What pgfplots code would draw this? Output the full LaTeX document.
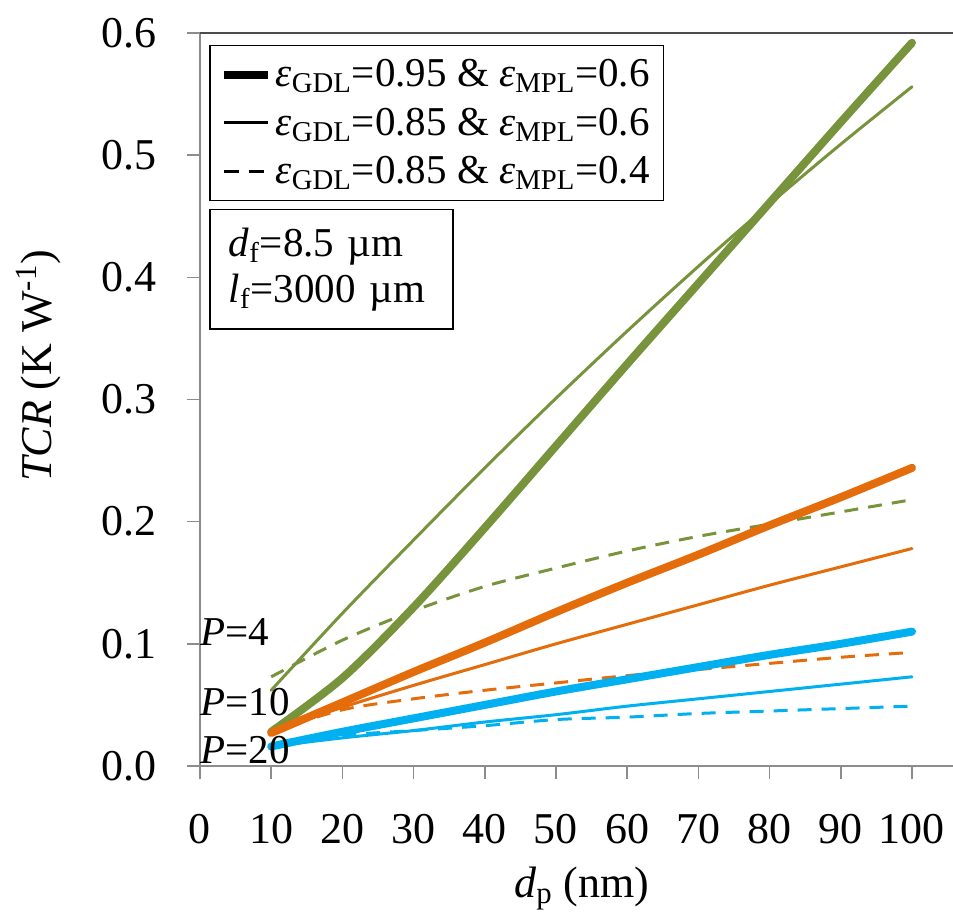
\documentclass[border=0pt]{standalone}
\usepackage{fontspec}
\setmainfont{Liberation Serif}
\usepackage{pgfplots}
\pgfplotsset{compat=1.18}
\definecolor{cgreen}{RGB}{119,147,60}
\definecolor{corange}{RGB}{228,108,10}
\definecolor{cblue}{RGB}{0,176,240}
\definecolor{axgray}{RGB}{140,140,140}
\begin{document}
\begin{tikzpicture}[font=\fontsize{20.5}{23}\selectfont]
\begin{axis}[
  name=ax, at={(0,0)}, anchor=south west,
  scale only axis, width=376.5pt, height=366.5pt,
  xmin=0, xmax=105.76, ymin=0, ymax=0.6,
  xtick={0,10,...,100}, ytick={0,0.1,0.2,0.3,0.4,0.5,0.6},
  axis lines*=left,
  axis line style={axgray, line width=0.75pt},
  tick align=outside, major tick length=6.5pt,
  tick style={axgray, line width=0.75pt},
  /pgf/number format/assume math mode=true,
  ticklabel style={font=\fontsize{22}{24}\selectfont},
  xticklabel style={yshift=-14pt},
  yticklabel style={xshift=-11.5pt, /pgf/number format/.cd, fixed, fixed zerofill, precision=1},
  xlabel={\textit{d}\textsubscript{p} (nm)},
  ylabel={\textit{TCR} (K W\textsuperscript{-1})},
  label style={font=\fontsize{22}{24}\selectfont},
  xlabel style={at={(axis description cs:0.507,-0.167)}, anchor=center},
  ylabel style={at={(axis description cs:-0.215,0.546)}, anchor=center},
  legend image code/.code={\draw[#1] (0pt,0pt) -- (22pt,0pt);},
  legend style={at={(rel axis cs:0.012,0.984)}, anchor=north west, draw=black,
    line width=0.75pt, inner xsep=5pt, inner ysep=5pt, row sep=5pt, legend cell align=left,
    font=\fontsize{20.5}{23}\selectfont},
  clip=false,
]
\addlegendimage{black, line width=4pt}
\addlegendimage{black, line width=1.5pt}
\addlegendimage{black, line width=1.5pt, dash pattern=on 7.5pt off 5pt}
\legend{{\textit{ε}\textsubscript{GDL}=0.95 \& \textit{ε}\textsubscript{MPL}=0.6},
        {\textit{ε}\textsubscript{GDL}=0.85 \& \textit{ε}\textsubscript{MPL}=0.6},
        {\textit{ε}\textsubscript{GDL}=0.85 \& \textit{ε}\textsubscript{MPL}=0.4}}

% P=4 (green)
\addplot[cgreen, smooth, line width=1.5pt, dash pattern=on 7pt off 5pt] coordinates {
(10,0.073) (20,0.103) (30,0.127) (40,0.147) (50,0.162) (60,0.176) (70,0.188) (80,0.198) (90,0.208) (100,0.218)};
\addplot[cgreen, smooth, line width=1.5pt, line cap=round] coordinates {
(10,0.062) (20,0.125) (30,0.185) (40,0.244) (50,0.301) (60,0.356) (70,0.409) (80,0.460) (90,0.509) (100,0.556)};
\addplot[cgreen, smooth, line width=4pt, line cap=round, line join=round] coordinates {
(10,0.028) (20,0.072) (30,0.130) (40,0.195) (50,0.262) (60,0.329) (70,0.395) (80,0.461) (90,0.527) (100,0.592)};
% P=10 (orange)
\addplot[corange, smooth, line width=1.5pt, dash pattern=on 7pt off 5pt] coordinates {
(10,0.028) (20,0.046) (30,0.055) (40,0.062) (50,0.068) (60,0.074) (70,0.079) (80,0.084) (90,0.089) (100,0.093)};
\addplot[corange, smooth, line width=1.5pt, line cap=round] coordinates {
(10,0.028) (20,0.048) (30,0.066) (40,0.083) (50,0.100) (60,0.116) (70,0.132) (80,0.148) (90,0.163) (100,0.178)};
\addplot[corange, smooth, line width=4pt, line cap=round, line join=round] coordinates {
(10,0.027) (20,0.052) (30,0.077) (40,0.101) (50,0.126) (60,0.150) (70,0.173) (80,0.197) (90,0.220) (100,0.244)};
% P=20 (blue)
\addplot[cblue, smooth, line width=1.5pt, dash pattern=on 7pt off 5pt] coordinates {
(10,0.016) (20,0.025) (30,0.029) (40,0.033) (50,0.038) (60,0.040) (70,0.043) (80,0.045) (90,0.047) (100,0.049)};
\addplot[cblue, smooth, line width=1.5pt, line cap=round] coordinates {
(10,0.016) (20,0.023) (30,0.029) (40,0.036) (50,0.042) (60,0.049) (70,0.055) (80,0.061) (90,0.067) (100,0.073)};
\addplot[cblue, smooth, line width=4pt, line cap=round, line join=round] coordinates {
(10,0.016) (20,0.028) (30,0.039) (40,0.050) (50,0.061) (60,0.071) (70,0.081) (80,0.091) (90,0.100) (100,0.110)};

\draw[black!70, line width=0.75pt] (rel axis cs:0,1) -- (rel axis cs:1,1);
\node[anchor=west, inner sep=0pt] at (axis cs:0,0.110) {\textit{P}=4};
\node[anchor=west, inner sep=0pt] at (axis cs:0,0.052) {\textit{P}=10};
\node[anchor=west, inner sep=0pt] at (axis cs:0,0.013) {\textit{P}=20};
\node[draw=black, line width=0.75pt, anchor=north west, align=left, inner xsep=9.5pt, inner ysep=9pt, text width=102.5pt]
  at (rel axis cs:0.012,0.760) {\textit{d}\textsubscript{f}=8.5 µm\\\textit{l}\textsubscript{f}=3000 µm};
\end{axis}
\pgfresetboundingbox
\useasboundingbox (-100pt,-77.5pt) rectangle (376.5pt,383pt);
\end{tikzpicture}
\end{document}
